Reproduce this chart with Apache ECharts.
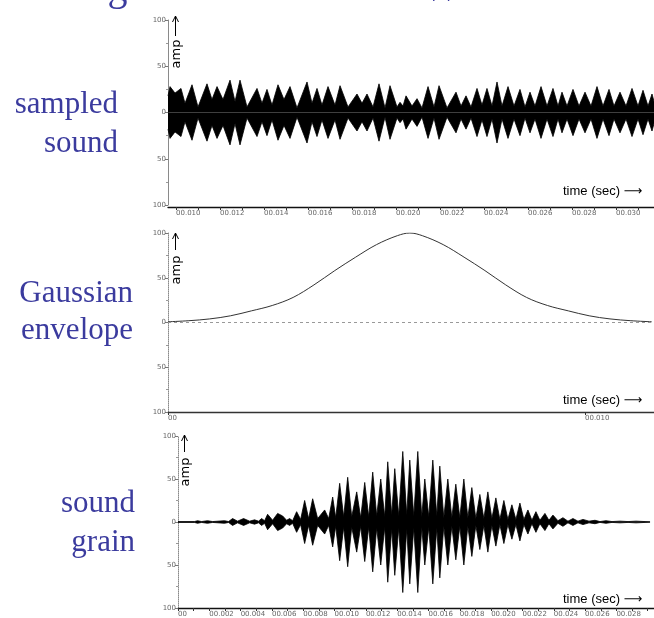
<!DOCTYPE html>
<html>
<head>
<meta charset="utf-8">
<script src="https://cdn.jsdelivr.net/npm/echarts@6/dist/echarts.min.js"></script>
<style>
  html, body { margin: 0; padding: 0; background: #ffffff; }
  #chart { width: 654px; height: 618px; }
</style>
</head>
<body>
<div id="chart"></div>
<script>
// Sampled sound: peak amplitude of the waveform envelope at each burst crest / trough (time in ms)
const soundTimeMs = [9.636, 9.727, 9.955, 10.227, 10.409, 10.727, 11.0, 11.409, 11.636, 11.864,
  12.136, 12.455, 12.682, 12.909, 13.227, 13.682, 13.909, 14.136, 14.364, 14.636,
  14.909, 15.182, 15.5, 15.955, 16.182, 16.409, 16.636, 16.909, 17.227, 17.455,
  17.818, 18.227, 18.455, 18.682, 18.955, 19.227, 19.5, 19.727, 20.045, 20.182,
  20.318, 20.455, 20.727, 20.955, 21.182, 21.455, 21.727, 21.955, 22.318, 22.727,
  22.955, 23.182, 23.409, 23.682, 23.909, 24.136, 24.364, 24.591, 24.818, 25.091,
  25.364, 25.636, 25.864, 26.091, 26.318, 26.591, 26.864, 27.136, 27.364, 27.545,
  27.773, 28.045, 28.318, 28.591, 28.864, 29.136, 29.409, 29.682, 29.909, 30.182,
  30.455, 30.727, 31.0, 31.227, 31.455, 31.636, 31.727];
const soundPeak = [18, 28, 21, 26, 10, 30, 6, 31, 14, 28,
  14, 35, 12, 35, 6, 26, 10, 25, 8, 30,
  14, 28, 5, 33, 10, 26, 8, 28, 8, 29,
  6, 20, 10, 20, 6, 31, 5, 29, 6, 11,
  7, 18, 7, 15, 5, 28, 6, 29, 5, 22,
  7, 18, 6, 26, 8, 26, 7, 33, 7, 28,
  7, 25, 6, 22, 7, 28, 7, 26, 7, 22,
  7, 25, 7, 22, 7, 28, 7, 25, 7, 22,
  7, 26, 7, 24, 7, 20, 12];

// Gaussian envelope (time in ms, amplitude in %)
const gaussTimeMs = [0, 0.5, 1, 1.5, 2, 2.5, 3, 3.5, 4, 4.5, 5, 5.5, 5.8,
  6.1, 6.6, 7.1, 7.6, 8.1, 8.6, 9.1, 9.6, 10.1, 10.6, 11.1, 11.6];
const gaussAmp = [0.8, 2, 4, 7.5, 13, 19, 28, 42, 58, 73, 87, 97, 100,
  97, 87, 73, 58, 42, 28, 19, 13, 7.5, 4, 2, 0.8];

// Sound grain: envelope crests / troughs of the windowed sound (time in ms)
const grainTimeMs = [0, 1.055, 1.247, 1.503, 1.886, 2.206, 2.973, 3.229, 3.485, 3.804,
  4.188, 4.572, 4.891, 5.147, 5.339, 5.531, 5.723, 6.042, 6.362, 6.682,
  6.937, 7.129, 7.321, 7.577, 7.833, 8.088, 8.344, 8.6, 8.92, 9.367,
  9.623, 9.879, 10.071, 10.326, 10.582, 10.838, 11.094, 11.413, 11.669, 11.925,
  12.181, 12.436, 12.692, 12.948, 13.204, 13.395, 13.651, 13.843, 14.099, 14.355,
  14.61, 14.802, 15.058, 15.314, 15.569, 15.761, 16.017, 16.273, 16.529, 16.72,
  16.976, 17.232, 17.488, 17.743, 17.999, 18.255, 18.511, 18.766, 19.022, 19.278,
  19.534, 19.789, 20.045, 20.301, 20.557, 20.812, 21.068, 21.324, 21.58, 21.836,
  22.091, 22.347, 22.603, 22.859, 23.114, 23.434, 23.69, 23.946, 24.265, 24.585,
  24.905, 25.224, 25.544, 25.864, 26.248, 26.631, 26.951, 27.334, 27.718, 28.23,
  28.741, 29.253, 29.828, 30.148];
const grainPeak = [0.5, 0.5, 1.5, 0.5, 1.5, 0.5, 1.5, 0.5, 4, 1,
  4, 1, 2.5, 1, 4, 1.5, 9, 2, 10, 7,
  2, 4, 1.5, 12, 3, 25, 4, 27, 4, 14,
  4, 29, 5, 45, 6, 52, 6, 35, 5, 46,
  6, 58, 7, 50, 6, 70, 8, 62, 7, 82,
  8, 72, 7, 82, 6, 50, 6, 72, 7, 65,
  5, 50, 5, 44, 5, 50, 5, 40, 4, 32,
  4, 35, 4, 28, 3, 25, 3, 20, 3, 22,
  3, 14, 2, 12, 2, 10, 2, 8, 1.5, 5,
  1, 4, 1, 3, 1, 2, 0.5, 1.5, 0.5, 1,
  0.5, 1, 0.5, 0.5];

// Axis tick values (ms)
const soundLabelTicks = [10, 12, 14, 16, 18, 20, 22, 24, 26, 28, 30];
const soundMinorTicks = [10, 11, 12, 13, 14, 15, 16, 17, 18, 19, 20, 21, 22, 23, 24, 25, 26, 27, 28, 29, 30, 31];
const gaussLabelTicks = [0, 10];
const grainLabelTicks = [0, 2, 4, 6, 8, 10, 12, 14, 16, 18, 20, 22, 24, 26, 28];
const grainMinorTicks = [0, 1, 2, 3, 4, 5, 6, 7, 8, 9, 10, 11, 12, 13, 14, 15, 16, 17, 18, 19, 20, 21, 22, 23, 24, 25, 26, 27, 28, 29, 30];

const panelLabels = [
  { lines: ['sampled', 'sound'], right: 118, y: [105, 144] },
  { lines: ['Gaussian', 'envelope'], right: 133, y: [294, 331] },
  { lines: ['sound', 'grain'], right: 135, y: [504, 543] }
];

const zip = (xs, ys, sign) => xs.map((x, i) => [x, sign * ys[i]]);
const secLabel = v => (v === 0 ? '00' : '00.' + String(Math.round(v)).padStart(3, '0'));
const LABEL_BLUE = '#3b3b9e';

function timeAxis(gridIndex, min, max, labelTicks, tickVals, lineColor) {
  return {
    type: 'value', gridIndex, min, max, position: 'bottom',
    offset: gridIndex === 0 ? 2 : 0,
    axisLine: { show: true, onZero: false, lineStyle: { color: lineColor, width: 1.3 } },
    axisTick: { show: true, length: 3, customValues: tickVals, lineStyle: { color: '#333' } },
    axisLabel: {
      show: true, customValues: labelTicks, formatter: secLabel,
      align: 'left', fontSize: 7, color: '#666', margin: 3, fontFamily: 'DejaVu Sans'
    },
    splitLine: { show: false }
  };
}

function ampAxis(gridIndex, lineType) {
  return {
    type: 'value', gridIndex, min: -100, max: 100, interval: 50,
    axisLine: { show: true, lineStyle: { color: '#8a8a8a', width: 1, type: lineType } },
    axisTick: { show: true, length: 3, lineStyle: { color: '#777' } },
    minorTick: { show: true, splitNumber: 2, length: 2, lineStyle: { color: '#999' } },
    axisLabel: {
      formatter: v => String(Math.abs(v)), fontSize: 7, color: '#666', margin: 2,
      fontFamily: 'DejaVu Sans'
    },
    splitLine: { show: false }
  };
}

function envelopeSeries(xi, times, peaks, sign) {
  return {
    type: 'line', xAxisIndex: xi, yAxisIndex: xi,
    data: zip(times, peaks, sign),
    symbol: 'none', silent: true,
    lineStyle: { color: '#000', width: 0.8 },
    areaStyle: { color: '#000', opacity: 1, origin: 0 }
  };
}

const graphics = [];
// slide title, cut off along the top edge
graphics.push({
  type: 'text', x: 3, y: -11,
  style: { text: 'Making a Grain: Sound × Window', fill: LABEL_BLUE,
    font: '40px "Liberation Serif", serif', verticalAlign: 'middle' }
});
panelLabels.forEach(p => {
  p.lines.forEach((t, i) => {
    graphics.push({
      type: 'text', x: p.right, y: p.y[i],
      style: { text: t, fill: LABEL_BLUE, font: '31px "Liberation Serif", serif',
        align: 'right', verticalAlign: 'middle' }
    });
  });
});
// "amp" axis captions with upward arrows
[[175.5, 16, 36, 54], [175.5, 233, 250, 270], [184.5, 435, 452, 472]].forEach(([x, top, bot, cy]) => {
  graphics.push({ type: 'line', shape: { x1: x, y1: bot, x2: x, y2: top },
    style: { stroke: '#000', lineWidth: 1 } });
  graphics.push({ type: 'polyline', shape: { points: [[x - 3, top + 6], [x, top], [x + 3, top + 6]] },
    style: { stroke: '#000', lineWidth: 1, fill: null } });
  graphics.push({ type: 'text', x: x + 1, y: cy, rotation: Math.PI / 2,
    style: { text: 'amp', font: '13px "DejaVu Sans", sans-serif', fill: '#000',
      align: 'center', verticalAlign: 'middle' } });
});
// "time (sec) →" captions
[191, 400, 599].forEach(y => {
  graphics.push({ type: 'text', x: 563, y,
    style: { text: 'time (sec) ⟶', font: '13px "Liberation Sans", "DejaVu Sans", sans-serif',
      fill: '#000', verticalAlign: 'middle' } });
});

const option = {
  backgroundColor: '#ffffff',
  animation: false,
  grid: [
    { left: 168, right: 0, top: 20, height: 185 },
    { left: 168, right: 0, top: 233, height: 179 },
    { left: 178, right: 0, top: 436, height: 174 }
  ],
  xAxis: [
    timeAxis(0, 9.636, 31.727, soundLabelTicks, soundMinorTicks, '#111'),
    timeAxis(1, 0, 11.655, gaussLabelTicks, gaussLabelTicks, '#333'),
    timeAxis(2, 0, 30.4, grainLabelTicks, grainMinorTicks, '#111')
  ],
  yAxis: [ampAxis(0, 'solid'), ampAxis(1, 'dotted'), ampAxis(2, 'dotted')],
  series: [
    envelopeSeries(0, soundTimeMs, soundPeak, 1),
    envelopeSeries(0, soundTimeMs, soundPeak, -1),
    {
      type: 'line', xAxisIndex: 1, yAxisIndex: 1,
      data: zip(gaussTimeMs, gaussAmp, 1),
      symbol: 'none', smooth: 0.35, silent: true,
      lineStyle: { color: '#333', width: 1 },
      markLine: {
        silent: true, symbol: 'none', label: { show: false },
        lineStyle: { color: '#999', type: [3, 3], width: 1 },
        data: [{ yAxis: 0 }]
      }
    },
    envelopeSeries(2, grainTimeMs, grainPeak, 1),
    envelopeSeries(2, grainTimeMs, grainPeak, -1)
  ],
  graphic: graphics
};

const chart = echarts.init(document.getElementById('chart'), null, { renderer: 'canvas' });
chart.setOption(option);
</script>
</body>
</html>
